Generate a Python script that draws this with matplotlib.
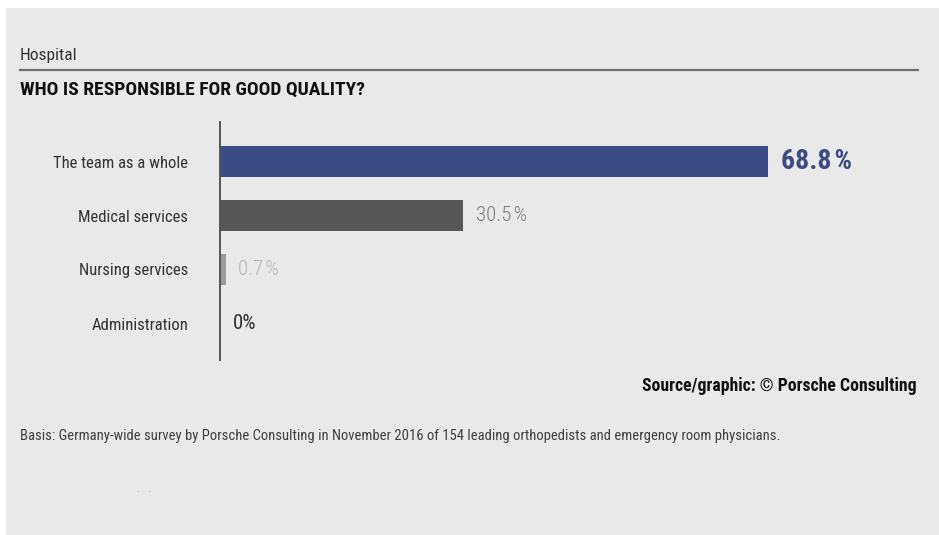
import matplotlib.pyplot as plt
from matplotlib.patches import Rectangle

categories = ["The team as a whole", "Medical services", "Nursing services", "Administration"]
shares = [68.8, 30.5, 0.7, 0.0]
share_labels = ["68.8\u200a%", "30.5\u200a%", "0.7\u200a%", "0%"]
bar_colors = ["#3d4c84", "#575757", "#9c9c9c", "#575757"]
label_colors = ["#3d4c84", "#7c7c7c", "#b4b4b4", "#333333"]
label_weights = ["bold", "light", "light", "normal"]

plt.rcParams["font.family"] = ["Roboto Condensed", "DejaVu Sans"]

W, H = 939, 535
fig = plt.figure(figsize=(W / 100, H / 100), dpi=100, facecolor="white")

# grey panel behind everything
fig.patches.append(Rectangle((6 / W, 0), 1, 1 - 8 / H, transform=fig.transFigure,
                             facecolor="#e9e9e9", edgecolor="none", zorder=-5))

def px(x, y):
    return x / W, 1 - y / H

# header
fig.text(*px(20, 60), "Hospital", fontsize=12.5, color="#333333", va="baseline")
fig.add_artist(plt.Line2D([20 / W, 918 / W], [1 - 70 / H, 1 - 70 / H],
                          color="#6e6e6e", lw=1.6, transform=fig.transFigure))
fig.text(*px(20, 95), "WHO IS RESPONSIBLE FOR GOOD QUALITY?", fontsize=14,
         fontweight="bold", color="#111111", va="baseline")

# bar chart: 0..80 % over 637 px, rows 54 px apart
left, right = 220, 220 + 637
top, bottom = 122, 360
ax = fig.add_axes([left / W, 1 - bottom / H, (right - left) / W, (bottom - top) / H])
ax.set_facecolor("none")
ypos = list(range(len(categories)))
ax.barh(ypos, shares, height=31 / 54, color=bar_colors, zorder=2)
ax.set_xlim(0, 80)
ax.set_ylim(3 + 36.5 / 54, -39.5 / 54)

for y, v, lab, c, w in zip(ypos, shares, share_labels, label_colors, label_weights):
    if y == 0:
        ax.text(v + 1.7, y, lab, fontsize=20, fontweight=w, color=c, va="center")
    else:
        ax.text(v + 1.6, y, lab, fontsize=15, fontweight=w, color=c, va="center")

ax.set_yticks(ypos)
ax.set_yticklabels(categories, fontsize=12, color="#333333")
ax.tick_params(axis="y", length=0, pad=23)
ax.set_xticks([])
for s in ["top", "right", "bottom"]:
    ax.spines[s].set_visible(False)
ax.spines["left"].set_color("#555555")
ax.spines["left"].set_linewidth(1.4)

# footer
fig.text(*px(917, 391), "Source/graphic: \u00a9 Porsche Consulting", fontsize=12.8,
         fontweight="bold", color="#111111", ha="right", va="baseline")
fig.text(*px(20, 440), "Basis: Germany-wide survey by Porsche Consulting in November 2016 of 154 "
         "leading orthopedists and emergency room physicians.", fontsize=10.5,
         color="#404040", va="baseline")
fig.text(*px(137, 492), ".    .", fontsize=7, color="#999999", va="baseline")

fig.savefig("out.png", dpi=100, facecolor="white")
